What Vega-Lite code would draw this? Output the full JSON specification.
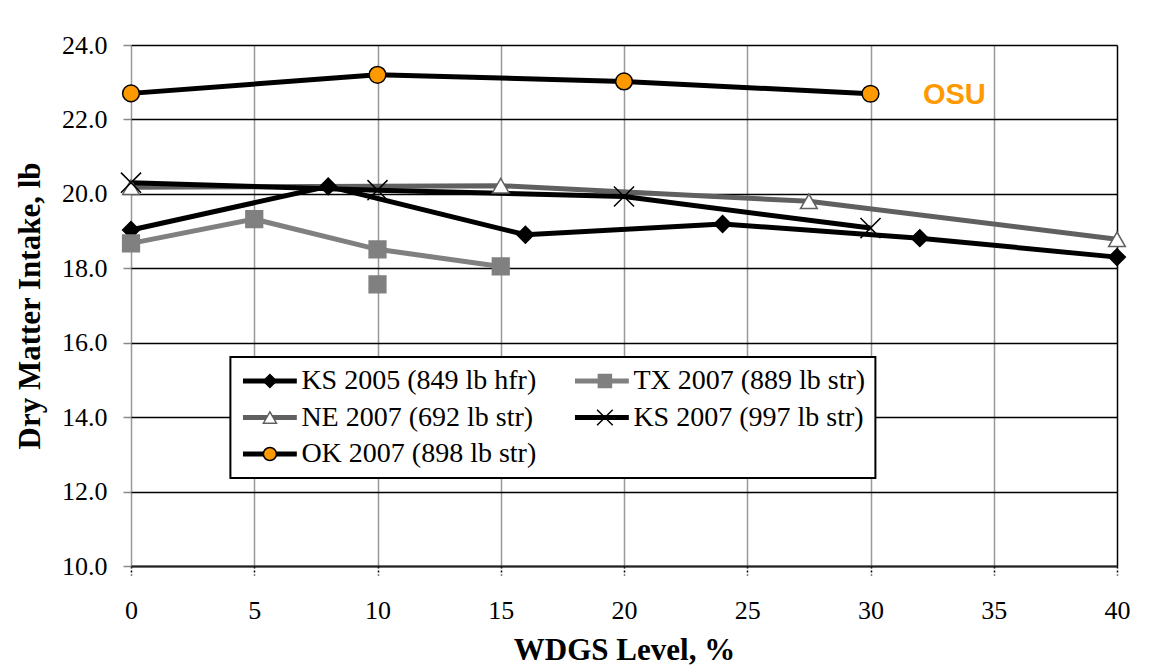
{
  "$schema": "https://vega.github.io/schema/vega-lite/v6.json",
  "width": 986,
  "height": 521,
  "autosize": {"type": "none"},
  "padding": {"left": 131, "top": 45, "right": 53, "bottom": 101},
  "background": "white",
  "config": {"view": {"stroke": null}, "font": "Liberation Serif"},
  "data": {
    "values": [
      {"series": "KS 2005 (849 lb hfr)", "x": 0, "y": 19.03},
      {"series": "KS 2005 (849 lb hfr)", "x": 8, "y": 20.2},
      {"series": "KS 2005 (849 lb hfr)", "x": 16, "y": 18.9},
      {"series": "KS 2005 (849 lb hfr)", "x": 24, "y": 19.19},
      {"series": "KS 2005 (849 lb hfr)", "x": 32, "y": 18.81},
      {"series": "KS 2005 (849 lb hfr)", "x": 40, "y": 18.3},
      {"series": "TX 2007 (889 lb str)", "x": 0, "y": 18.67},
      {"series": "TX 2007 (889 lb str)", "x": 5, "y": 19.32},
      {"series": "TX 2007 (889 lb str)", "x": 10, "y": 18.51},
      {"series": "TX 2007 (889 lb str)", "x": 15, "y": 18.05},
      {"series": "TX 2007 (889 lb str)", "x": 10, "y": 17.57, "isolated": true},
      {"series": "NE 2007 (692 lb str)", "x": 0, "y": 20.18},
      {"series": "NE 2007 (692 lb str)", "x": 15, "y": 20.22},
      {"series": "NE 2007 (692 lb str)", "x": 27.5, "y": 19.8},
      {"series": "NE 2007 (692 lb str)", "x": 40, "y": 18.78},
      {"series": "KS 2007 (997 lb str)", "x": 0, "y": 20.3},
      {"series": "KS 2007 (997 lb str)", "x": 10, "y": 20.1},
      {"series": "KS 2007 (997 lb str)", "x": 20, "y": 19.93},
      {"series": "KS 2007 (997 lb str)", "x": 30, "y": 19.08},
      {"series": "OK 2007 (898 lb str)", "x": 0, "y": 22.7},
      {"series": "OK 2007 (898 lb str)", "x": 10, "y": 23.2},
      {"series": "OK 2007 (898 lb str)", "x": 20, "y": 23.02},
      {"series": "OK 2007 (898 lb str)", "x": 30, "y": 22.69}
    ]
  },
  "layer": [
    {
      "transform": [{"filter": "!datum.isolated"}],
      "mark": {"type": "line", "strokeWidth": 5},
      "encoding": {
        "x": {
          "field": "x", "type": "quantitative",
          "scale": {"domain": [0, 40], "nice": false},
          "axis": {
            "values": [0, 5, 10, 15, 20, 25, 30, 35, 40],
            "grid": true,
            "gridColor": {"condition": {"test": "datum.value === 40", "value": "black"}, "value": "#999999"},
            "gridWidth": 1.5,
            "domain": true, "domainColor": "#222222", "domainWidth": 2,
            "ticks": true, "tickColor": "black", "tickDash": [2, 2], "tickSize": 9, "tickWidth": 1.5,
            "labelFont": "Liberation Serif", "labelFontSize": 26, "labelColor": "black", "labelPadding": 22,
            "labelFlush": false,
            "title": "WDGS Level, %",
            "titleFont": "Liberation Serif", "titleFontSize": 31, "titleFontWeight": "bold", "titleColor": "black",
            "titlePadding": 12
          }
        },
        "y": {
          "field": "y", "type": "quantitative",
          "scale": {"domain": [10, 24], "nice": false, "zero": false},
          "axis": {
            "values": [10, 12, 14, 16, 18, 20, 22, 24],
            "format": ".1f",
            "grid": true, "gridColor": "black", "gridWidth": 1.3,
            "domain": false,
            "ticks": true, "tickColor": "#888888", "tickSize": 8, "tickWidth": 1.5,
            "labelFont": "Liberation Serif", "labelFontSize": 26, "labelColor": "black", "labelPadding": 16,
            "title": "Dry Matter Intake, lb",
            "titleFont": "Liberation Serif", "titleFontSize": 31, "titleFontWeight": "bold", "titleColor": "black",
            "titlePadding": 15
          }
        },
        "color": {
          "field": "series", "type": "nominal",
          "sort": ["KS 2005 (849 lb hfr)", "TX 2007 (889 lb str)", "NE 2007 (692 lb str)", "KS 2007 (997 lb str)", "OK 2007 (898 lb str)"],
          "scale": {"range": ["black", "#808080", "#606060", "black", "black"]},
          "legend": {
            "title": null,
            "orient": "none", "legendX": 99.4, "legendY": 312,
            "direction": "horizontal",
            "columns": 2, "columnPadding": 36, "rowPadding": 8.5,
            "padding": 10, "clipHeight": 28,
            "symbolType": "stroke", "symbolStrokeWidth": 5, "symbolSize": 2900,
            "labelFont": "Liberation Serif", "labelFontSize": 28, "labelColor": "black", "labelOffset": 2,
            "labelLimit": 400,
            "fillColor": "white", "strokeColor": "black",
            "zindex": 1,
            "encode": {"legend": {"update": {"strokeWidth": {"value": 2}}}}
          }
        }
      }
    },
    {
      "mark": {"type": "point", "size": 280, "strokeWidth": 1.5, "opacity": 1},
      "encoding": {
        "x": {"field": "x", "type": "quantitative"},
        "y": {"field": "y", "type": "quantitative"},
        "shape": {
          "field": "series", "type": "nominal",
          "scale": {
            "domain": ["KS 2005 (849 lb hfr)", "TX 2007 (889 lb str)", "NE 2007 (692 lb str)", "KS 2007 (997 lb str)", "OK 2007 (898 lb str)"],
            "range": ["diamond", "square", "triangle-up", "M-1.2,-1.2L1.2,1.2M-1.2,1.2L1.2,-1.2", "circle"]
          },
          "legend": {
            "title": null,
            "orient": "none", "legendX": 99.4, "legendY": 312,
            "direction": "horizontal",
            "columns": 2, "columnPadding": 258, "rowPadding": 8.5,
            "padding": 10, "clipHeight": 28,
            "symbolSize": 170, "symbolStrokeWidth": 1.5, "symbolOffset": 15.5,
            "labelFont": "Liberation Serif", "labelFontSize": 28, "labelColor": "black", "labelOffset": 33,
            "labelExpr": "''",
            "zindex": 2
          }
        },
        "fill": {
          "field": "series", "type": "nominal",
          "scale": {
            "domain": ["KS 2005 (849 lb hfr)", "TX 2007 (889 lb str)", "NE 2007 (692 lb str)", "KS 2007 (997 lb str)", "OK 2007 (898 lb str)"],
            "range": ["black", "#808080", "white", "transparent", "#FF9900"]
          }
        },
        "stroke": {
          "field": "series", "type": "nominal",
          "scale": {
            "domain": ["KS 2005 (849 lb hfr)", "TX 2007 (889 lb str)", "NE 2007 (692 lb str)", "KS 2007 (997 lb str)", "OK 2007 (898 lb str)"],
            "range": ["black", "#808080", "#606060", "black", "black"]
          }
        }
      }
    },
    {
      "data": {"values": [{"x": 33.4, "y": 22.65, "label": "OSU"}]},
      "mark": {"type": "text", "font": "Liberation Sans", "fontSize": 29, "fontWeight": "bold", "color": "#FF9900", "align": "center", "baseline": "middle"},
      "encoding": {
        "x": {"field": "x", "type": "quantitative"},
        "y": {"field": "y", "type": "quantitative"},
        "text": {"field": "label"}
      }
    }
  ]
}
